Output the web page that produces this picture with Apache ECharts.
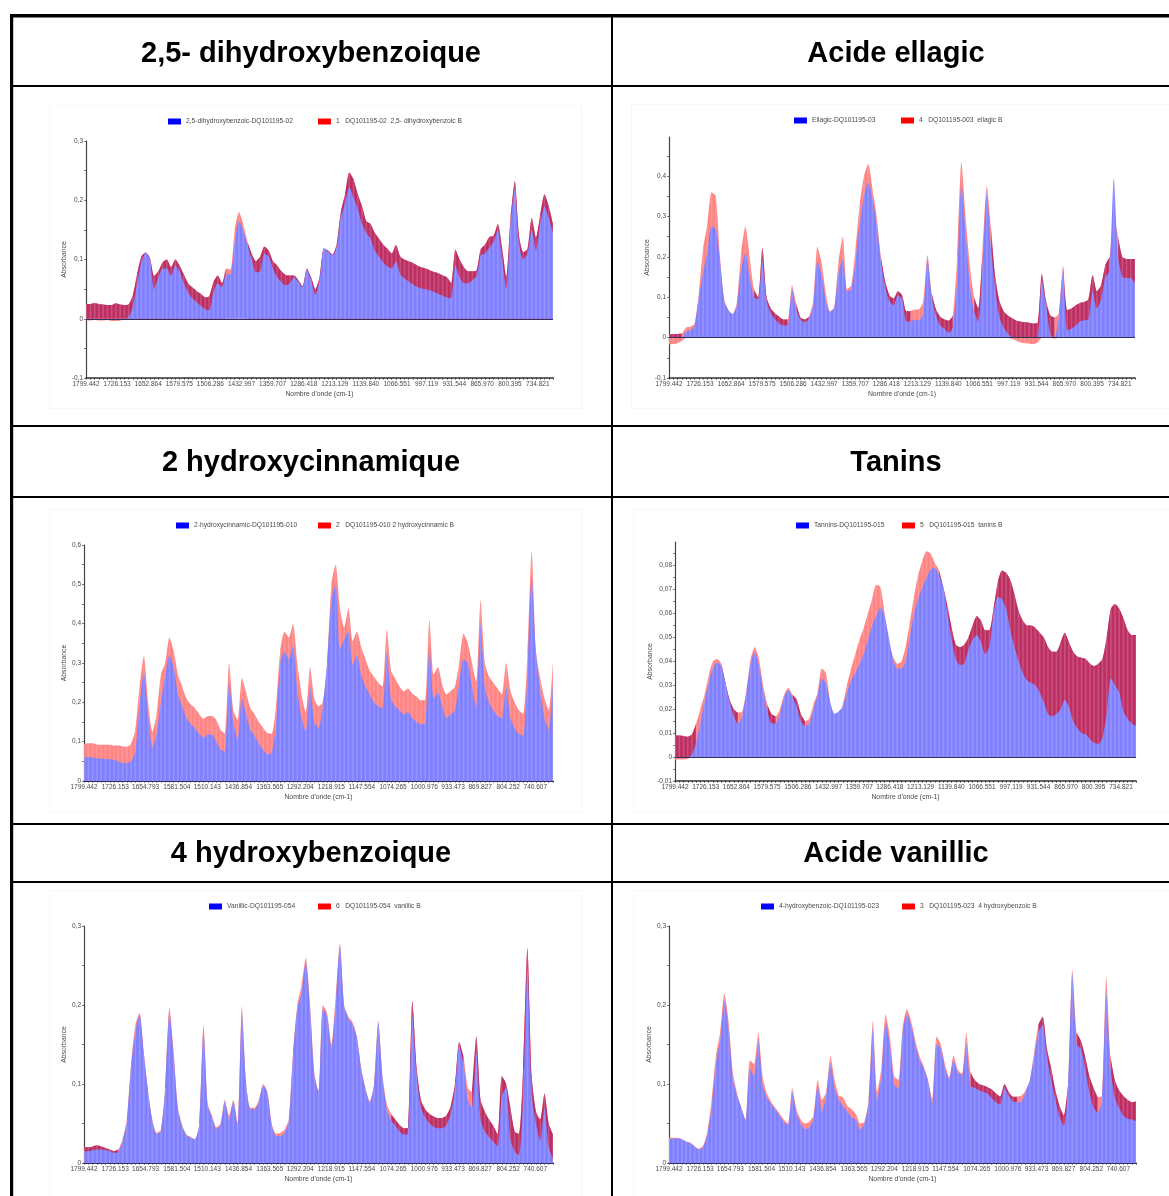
<!DOCTYPE html>
<html>
<head>
<meta charset="utf-8">
<style>html,body{margin:0;padding:0;background:#fff}#c{width:1169px;height:1196px}</style>
<script src="https://cdn.jsdelivr.net/npm/echarts@6/dist/echarts.min.js"></script>
</head>
<body>
<div id="c"></div>
<script>
// Wavenumber of each sample (cm-1)
const wavenumbers = [
1799,1789,1779,1769,1759,1749,1739,1729,1719,1709,
1699,1689,1679,1669,1659,1649,1639,1629,1619,1609,
1599,1589,1579,1569,1559,1549,1539,1529,1519,1509,
1499,1489,1479,1469,1459,1449,1439,1429,1419,1409,
1399,1389,1379,1369,1359,1349,1339,1329,1319,1309,
1299,1289,1279,1269,1259,1249,1239,1229,1219,1209,
1199,1189,1179,1169,1159,1149,1139,1129,1119,1109,
1099,1089,1079,1069,1059,1049,1039,1029,1019,1009,
999,989,979,969,959,949,939,929,919,909,
899,889,879,869,859,849,839,829,819,809,
799,789,779,769,759,749,739,729,719,709,699];

const ticksA = [1799.442,1726.153,1652.864,1579.575,1506.286,1432.997,1359.707,1286.418,1213.129,1139.840,1066.551,997.119,931.544,865.970,800.395,734.821];
const ticksB = [1799.442,1726.153,1654.793,1581.504,1510.143,1436.854,1363.565,1292.204,1218.915,1147.554,1074.265,1000.976,933.473,869.827,804.252,740.607];

// 2,5-dihydroxybenzoic
const dhbBlue = [
-.002,-.003,-.002,-.003,-.003,-.002,-.004,-.004,-.003,0,
.003,.02,.06,.095,.112,.1,.05,.07,.085,.085,
.072,.09,.08,.06,.045,.034,.028,.022,.016,.014,
.045,.06,.053,.075,.075,.13,.165,.15,.125,.1,
.078,.08,.11,.105,.085,.07,.062,.056,.06,.07,
.062,.053,.083,.065,.04,.065,.12,.113,.107,.12,
.17,.195,.222,.205,.185,.16,.145,.135,.115,.105,
.095,.088,.085,.097,.075,.068,.063,.058,.054,.051,
.05,.048,.045,.042,.039,.036,.035,.09,.07,.06,
.06,.065,.072,.107,.11,.12,.13,.15,.1,.05,
.16,.22,.125,.1,.11,.15,.115,.16,.19,.17,.145];
const dhbRed = [
.025,.025,.026,.025,.024,.023,.023,.026,.024,.023,
.024,.04,.075,.105,.112,.103,.072,.08,.095,.1,
.087,.1,.09,.075,.06,.053,.047,.042,.036,.038,
.062,.073,.06,.085,.083,.15,.18,.16,.13,.11,
.097,.105,.122,.115,.097,.09,.08,.074,.073,.073,
.065,.055,.085,.07,.05,.07,.118,.115,.108,.125,
.18,.21,.247,.235,.21,.19,.165,.16,.145,.135,
.125,.118,.11,.125,.105,.1,.097,.094,.09,.087,
.085,.082,.079,.077,.073,.07,.06,.117,.1,.087,
.08,.08,.082,.118,.125,.138,.14,.16,.12,.07,
.17,.232,.14,.112,.118,.17,.137,.175,.21,.19,.16];
const dhbDarkSpans = [[1799,1469],[1419,699]];

// Ellagic
const ellBlue = [
-.017,-.016,-.014,-.008,.015,.018,.03,.1,.16,.21,
.275,.27,.19,.09,.068,.058,.08,.17,.21,.15,
.1,.095,.19,.09,.06,.045,.035,.03,.03,.12,
.07,.045,.038,.046,.08,.19,.155,.09,.063,.075,
.16,.195,.115,.12,.19,.28,.35,.385,.345,.28,
.19,.125,.09,.08,.105,.095,.04,.04,.044,.043,
.06,.195,.1,.055,.03,.022,.012,.025,.14,.38,
.26,.13,.065,.04,.18,.36,.22,.12,.05,.025,
.01,-.003,-.008,-.012,-.014,-.015,-.016,-.012,.14,.08,
.008,-.002,.05,.165,.018,.022,.03,.04,.043,.045,
.115,.072,.095,.15,.165,.395,.2,.15,.148,.148,.135];
const ellRed = [
.008,.009,.009,.01,.025,.027,.035,.11,.22,.28,
.36,.35,.2,.095,.068,.058,.09,.21,.275,.2,
.12,.1,.222,.1,.072,.06,.052,.045,.045,.13,
.085,.05,.045,.052,.09,.225,.185,.11,.065,.075,
.19,.25,.12,.13,.22,.33,.4,.43,.37,.3,
.2,.14,.105,.097,.115,.105,.065,.066,.069,.07,
.09,.205,.11,.07,.052,.045,.042,.055,.2,.435,
.3,.18,.1,.072,.22,.375,.27,.15,.09,.065,
.055,.048,.042,.04,.038,.037,.035,.036,.158,.09,
.055,.05,.06,.178,.068,.072,.08,.086,.088,.095,
.155,.115,.13,.18,.2,.305,.25,.2,.195,.195,.195];
const ellDarkSpans = [[1799,1769],[1599,1519],[1499,1469],[1299,1229],[1179,1129],[1079,1059],[1039,889],[869,759],[739,699]];

// 2-hydroxycinnamic
const hcaBlue = [
.06,.061,.06,.058,.057,.056,.055,.054,.05,.046,
.046,.05,.075,.19,.275,.17,.085,.12,.2,.265,
.32,.29,.22,.19,.16,.145,.135,.12,.11,.118,
.118,.1,.08,.075,.25,.15,.105,.21,.17,.13,
.115,.095,.08,.068,.072,.14,.3,.33,.31,.345,
.23,.16,.125,.24,.15,.135,.19,.3,.46,.5,
.335,.36,.38,.295,.32,.27,.24,.22,.2,.19,
.185,.325,.21,.19,.18,.17,.175,.16,.15,.145,
.145,.34,.21,.225,.19,.16,.17,.18,.25,.31,
.3,.24,.185,.4,.24,.2,.18,.165,.16,.24,
.16,.135,.12,.115,.27,.52,.33,.23,.16,.13,.25];
const hcaRed = [
.094,.096,.096,.093,.092,.092,.092,.09,.09,.088,
.087,.095,.13,.24,.318,.2,.125,.17,.27,.3,
.365,.33,.27,.24,.21,.195,.185,.17,.158,.165,
.165,.155,.13,.12,.3,.18,.155,.262,.225,.185,
.17,.15,.135,.122,.12,.19,.33,.38,.365,.4,
.3,.22,.175,.29,.21,.19,.2,.3,.5,.55,
.44,.39,.44,.355,.38,.34,.31,.28,.265,.25,
.24,.385,.28,.26,.24,.228,.235,.222,.215,.205,
.205,.41,.27,.29,.245,.22,.228,.24,.3,.375,
.35,.3,.25,.46,.3,.265,.25,.235,.22,.3,
.23,.2,.18,.17,.32,.585,.33,.26,.21,.18,.305];
const hcaDarkSpans = [];

// Tannins
const tanBlue = [
-.001,-.001,-.001,-.0008,.001,.006,.014,.023,.031,.037,
.0395,.038,.031,.023,.017,.014,.017,.027,.039,.044,
.038,.028,.019,.014,.014,.018,.025,.028,.025,.021,
.015,.013,.014,.02,.026,.033,.031,.023,.018,.019,
.021,.027,.032,.035,.039,.043,.049,.055,.059,.0625,
.059,.05,.041,.037,.037,.04,.05,.06,.066,.071,
.075,.0785,.079,.076,.071,.06,.049,.041,.0385,.039,
.045,.049,.051,.048,.043,.046,.06,.067,.066,.062,
.053,.046,.04,.035,.032,.031,.03,.027,.023,.018,
.017,.018,.02,.024,.021,.015,.012,.01,.0095,.0075,
.006,.0055,.008,.018,.033,.03,.027,.019,.016,.014,.013];
const tanRed = [
.009,.009,.0088,.0085,.0095,.014,.02,.026,.034,.04,
.041,.039,.031,.024,.02,.0185,.019,.028,.041,.046,
.041,.03,.022,.018,.017,.02,.026,.029,.026,.024,
.018,.015,.016,.022,.027,.037,.035,.023,.018,.018,
.022,.03,.037,.043,.049,.054,.06,.066,.072,.071,
.06,.048,.042,.039,.04,.046,.056,.067,.076,.082,
.086,.085,.081,.078,.071,.063,.054,.047,.046,.047,
.05,.055,.059,.057,.053,.053,.062,.073,.078,.077,
.074,.068,.061,.057,.055,.055,.054,.052,.05,.046,
.044,.044,.048,.052,.048,.044,.042,.0415,.041,.039,
.038,.039,.041,.05,.062,.064,.062,.058,.053,.051,.051];
const tanDarkSpans = [[1799,1749],[1689,1649],[1579,1559],[1519,1489],[1169,699]];

// Vanillic
const vanBlue = [
.015,.015,.016,.017,.017,.016,.015,.013,.014,.028,
.052,.122,.165,.188,.138,.09,.053,.037,.04,.093,
.19,.135,.068,.046,.035,.032,.03,.048,.168,.072,
.058,.043,.048,.078,.055,.078,.045,.19,.1,.068,
.068,.078,.098,.088,.048,.034,.034,.038,.052,.135,
.195,.215,.255,.195,.11,.09,.195,.185,.145,.2,
.275,.198,.183,.175,.158,.118,.093,.076,.098,.178,
.108,.068,.054,.047,.04,.036,.037,.185,.11,.07,
.058,.05,.046,.044,.044,.048,.062,.093,.148,.125,
.08,.07,.14,.055,.04,.033,.027,.021,.085,.095,
.03,.015,.01,.08,.245,.085,.05,.028,.07,.02,.005];
const vanRed = [
.02,.02,.021,.022,.021,.019,.017,.015,.017,.03,
.055,.125,.175,.19,.14,.09,.055,.038,.042,.095,
.197,.14,.07,.048,.036,.033,.03,.05,.175,.075,
.06,.045,.05,.08,.06,.08,.05,.198,.1,.07,
.07,.08,.1,.09,.05,.037,.038,.042,.055,.14,
.2,.225,.26,.2,.115,.09,.2,.19,.15,.21,
.278,.2,.185,.178,.16,.12,.095,.078,.1,.18,
.11,.075,.062,.055,.048,.044,.045,.205,.12,.08,
.068,.062,.059,.057,.057,.06,.072,.1,.153,.135,
.095,.09,.16,.08,.065,.055,.047,.036,.11,.1,
.07,.04,.037,.12,.272,.11,.065,.055,.088,.05,.036];
const vanDarkSpans = [[1799,1719],[1079,909],[889,699]];

// 4-hydroxybenzoic
const hbaBlue = [
.03,.031,.031,.03,.027,.025,.021,.017,.02,.036,
.07,.125,.155,.205,.17,.108,.085,.07,.053,.12,
.11,.155,.1,.083,.075,.068,.06,.052,.048,.09,
.063,.05,.043,.045,.055,.098,.065,.085,.125,.095,
.08,.072,.065,.058,.055,.042,.05,.075,.17,.08,
.11,.178,.15,.1,.094,.165,.188,.175,.15,.13,
.12,.103,.075,.15,.145,.12,.106,.13,.115,.111,
.15,.097,.095,.092,.09,.088,.082,.077,.074,.095,
.085,.078,.077,.078,.09,.105,.135,.165,.175,.135,
.105,.08,.058,.047,.095,.24,.15,.145,.12,.09,
.07,.064,.08,.215,.12,.083,.07,.06,.056,.055,.053];
const hbaRed = [
.032,.032,.032,.03,.027,.026,.021,.018,.022,.04,
.08,.135,.165,.215,.18,.115,.088,.07,.055,.13,
.125,.165,.11,.088,.078,.07,.063,.055,.05,.095,
.068,.055,.05,.052,.06,.105,.08,.09,.135,.105,
.085,.083,.072,.068,.062,.05,.052,.08,.18,.09,
.12,.188,.16,.11,.105,.17,.195,.18,.155,.135,
.122,.105,.08,.16,.15,.125,.108,.136,.118,.113,
.165,.115,.105,.1,.098,.096,.093,.088,.084,.1,
.09,.084,.084,.085,.092,.105,.14,.175,.185,.145,
.12,.092,.072,.06,.1,.245,.165,.155,.135,.11,
.095,.083,.085,.235,.135,.105,.092,.085,.08,.077,.078];
const hbaDarkSpans = [[1089,979],[929,859],[839,789],[759,699]];

const panels = [
 {title:'2,5- dihydroxybenzoique',tx:311,ty:52,blue:dhbBlue,red:dhbRed,dark:dhbDarkSpans,ticks:ticksA,
  grid:[86,141,467,237],yMin:-.1,yMax:.3,yLabels:[-.1,0,.1,.2,.3],yMinor:.05,
  blueName:'2,5-dihydroxybenzoic-DQ101195-02',redName:'1   DQ101195-02  2,5- dihydroxybenzoic B',lg:[168,318,118],box:[49,105,532,303]},
 {title:'Acide ellagic',tx:896,ty:52,blue:ellBlue,red:ellRed,dark:ellDarkSpans,ticks:ticksA,
  grid:[669,137,466,241],yMin:-.1,yMax:.497,yLabels:[-.1,0,.1,.2,.3,.4],yMinor:.05,
  blueName:'Ellagic-DQ101195-03',redName:'4   DQ101195-003  ellagic B',lg:[794,901,117],box:[631,104,538,304]},
 {title:'2 hydroxycinnamique',tx:311,ty:461,blue:hcaBlue,red:hcaRed,dark:hcaDarkSpans,ticks:ticksB,
  grid:[84,545,469,236],yMin:0,yMax:.6,yLabels:[0,.1,.2,.3,.4,.5,.6],yMinor:.05,
  blueName:'2-hydroxycinnamic-DQ101195-010',redName:'2   DQ101195-010 2 hydroxycinnamic B',lg:[176,318,522],box:[49,509,532,303]},
 {title:'Tanins',tx:896,ty:461,blue:tanBlue,red:tanRed,dark:tanDarkSpans,ticks:ticksA,
  grid:[675,542,461,239],yMin:-.01,yMax:.0899,yLabels:[-.01,0,.01,.02,.03,.04,.05,.06,.07,.08],yMinor:.005,
  blueName:'Tannins-DQ101195-015',redName:'5   DQ101195-015  tanins B',lg:[796,902,522],box:[633,509,536,303]},
 {title:'4 hydroxybenzoique',tx:311,ty:852,blue:vanBlue,red:vanRed,dark:vanDarkSpans,ticks:ticksB,
  grid:[84,926,469,237],yMin:0,yMax:.3,yLabels:[0,.1,.2,.3],yMinor:.05,
  blueName:'Vanillic-DQ101195-054',redName:'6   DQ101195-054  vanillic B',lg:[209,318,903],box:[49,890,532,306]},
 {title:'Acide vanillic',tx:896,ty:852,blue:hbaBlue,red:hbaRed,dark:hbaDarkSpans,ticks:ticksB,
  grid:[669,926,467,237],yMin:0,yMax:.3,yLabels:[0,.1,.2,.3],yMinor:.05,
  blueName:'4-hydroxybenzoic-DQ101195-023',redName:'3   DQ101195-023  4 hydroxybenzoic B',lg:[761,902,903],box:[633,890,536,306]}
];

const FONT = '"Liberation Sans", Arial, sans-serif';
const GREY = '#4a4a4a';
const TICKFONT = 6.5, NAMEFONT = 6.85, LEGFONT = 6.7;
const option = {animation:false,backgroundColor:'#fff',title:[],legend:[],grid:[],xAxis:[],yAxis:[],series:[],graphic:[]};

panels.forEach((p,idx)=>{
  if(p.blue.length!==wavenumbers.length||p.red.length!==wavenumbers.length) throw new Error('length '+p.title+' '+p.blue.length+' '+p.red.length);
  const isDark=w=>p.dark.some(s=>w<=s[0]&&w>=s[1]);
  const pair=fn=>wavenumbers.map((w,i)=>[w,fn(i,w)]);

  option.title.push({text:p.title,left:p.tx,top:p.ty-15,textAlign:'center',padding:0,
    textStyle:{fontFamily:FONT,fontWeight:'bold',fontSize:29,color:'#000',lineHeight:34}});
  option.graphic.push({type:'rect',silent:true,z:-1,shape:{x:p.box[0]+.5,y:p.box[1]+.5,width:p.box[2],height:p.box[3]},
    style:{fill:'#fff',stroke:'#f7f7f7',lineWidth:1}});

  const g=p.grid;
  option.grid.push({left:g[0],top:g[1],width:g[2],height:g[3],containLabel:false});
  const tickVals=[];
  for(let v=p.yMin;v<=p.yMax+1e-9;v+=p.yMinor) tickVals.push(+v.toFixed(4));
  option.xAxis.push({gridIndex:idx,type:'value',inverse:true,min:699,max:1799.442,position:'bottom',
    name:"Nombre d'onde (cm-1)",nameLocation:'middle',nameGap:12.5,
    nameTextStyle:{fontFamily:FONT,fontSize:NAMEFONT,color:GREY},
    axisLine:{onZero:false,lineStyle:{color:'#333',width:1.5}},
    axisTick:{show:true,length:1.5,customValues:wavenumbers,lineStyle:{color:'#333',width:1}},
    splitLine:{show:false},
    axisLabel:{customValues:p.ticks,formatter:v=>v.toFixed(3),margin:3,fontFamily:FONT,fontSize:TICKFONT,color:GREY,hideOverlap:false}});
  option.yAxis.push({gridIndex:idx,type:'value',min:p.yMin,max:p.yMax,position:'left',
    name:'Absorbance',nameLocation:'middle',nameGap:14.5,nameRotate:90,
    nameTextStyle:{fontFamily:FONT,fontSize:NAMEFONT,color:GREY},
    axisLine:{show:true,onZero:false,lineStyle:{color:'#444',width:1.2}},
    axisTick:{show:true,length:2,customValues:tickVals,lineStyle:{color:'#444',width:.7}},
    splitLine:{show:false},
    axisLabel:{customValues:p.yLabels,formatter:v=>String(+v.toFixed(3)).replace('.',','),margin:3,fontFamily:FONT,fontSize:TICKFONT,color:GREY}});

  const base={type:'line',xAxisIndex:idx,yAxisIndex:idx,showSymbol:false,symbol:'none',silent:true,
    smooth:0.22,lineStyle:{width:0},connectNulls:false,animation:false};
  // salmon layer up to the red curve
  option.series.push({...base,name:p.redName,z:1,itemStyle:{color:'#ff0000'},
    areaStyle:{color:'#ff8484',opacity:1},data:pair(i=>Math.max(p.red[i],0))});
  // salmon where a curve dips below zero
  option.series.push({...base,name:p.title+' neg',z:1,itemStyle:{color:'#ff8484'},
    areaStyle:{color:'#ff8484',opacity:1},data:pair(i=>Math.min(p.blue[i],p.red[i],0))});
  // crimson overlap band
  option.series.push({...base,name:p.title+' overlap',z:2,itemStyle:{color:'#bd2f63'},
    areaStyle:{color:'#bd2f63',opacity:1},data:pair((i,w)=>isDark(w)?Math.max(p.red[i],0):null)});
  // periwinkle layer up to the blue curve
  option.series.push({...base,name:p.blueName,z:3,itemStyle:{color:'#0000ff'},
    areaStyle:{color:'#8080ff',opacity:1},data:pair(i=>Math.max(p.blue[i],0))});
  // vertical bar texture
  const bar={type:'bar',xAxisIndex:idx,yAxisIndex:idx,silent:true,barWidth:1.6,barGap:'-100%',z:4,animation:false,
    itemStyle:{color:'rgba(255,255,255,0.16)'}};
  option.series.push({...bar,name:p.title+' bars red',data:pair(i=>Math.max(p.red[i],p.blue[i]))});
  option.series.push({...bar,name:p.title+' bars low',data:pair(i=>Math.min(p.red[i],p.blue[i],0)),
    markLine:{silent:true,symbol:'none',animation:false,label:{show:false},z:6,
      lineStyle:{color:'#30305a',width:1,type:'solid'},data:[{yAxis:0}]}});

  const leg=(name,color,left)=>({left,top:p.lg[2],orient:'horizontal',itemWidth:13,itemHeight:6,itemGap:0,padding:0,
    selectedMode:false,icon:'rect',itemStyle:{color,borderWidth:0},lineStyle:{width:0},
    textStyle:{fontFamily:FONT,fontSize:LEGFONT,color:GREY,padding:[0,0,0,0]},
    data:[{name,icon:'rect',itemStyle:{color}}]});
  option.legend.push(leg(p.blueName,'#0000ff',p.lg[0]));
  option.legend.push(leg(p.redName,'#ff0000',p.lg[1]));
});

// table rules
const rule=(x,y,w,h)=>({type:'rect',silent:true,z:50,shape:{x,y,width:w,height:h},style:{fill:'#000'}});
option.graphic.push(rule(10,14,1159,3.5),rule(10,14,3.2,1182),rule(611,14,2,1182),
  rule(10,85,1159,2),rule(10,425,1159,2),rule(10,496,1159,2),rule(10,823,1159,2),rule(10,881,1159,2));

const chart=echarts.init(document.getElementById('c'),null,{renderer:'canvas',width:1169,height:1196});
chart.setOption(option);
</script>
</body>
</html>
